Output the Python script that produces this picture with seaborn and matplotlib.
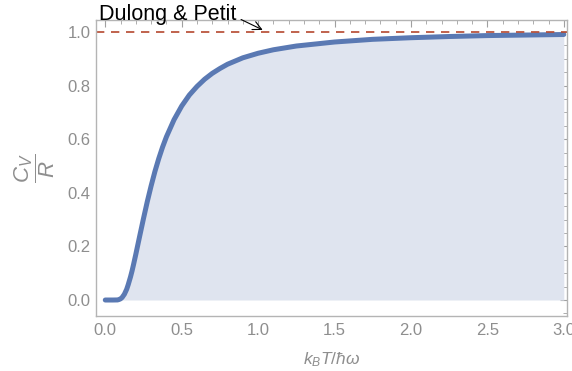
import numpy as np
import pandas as pd
import matplotlib
matplotlib.use("Agg")
import matplotlib.pyplot as plt
import seaborn as sns
from matplotlib.ticker import MultipleLocator, FormatStrFormatter

# values (k_B T / hbar omega  ->  C_V / R)
temp = [0.0, 0.05, 0.08, 0.09, 0.1, 0.11, 0.125, 0.14, 0.15, 0.165, 0.175,
        0.185, 0.2, 0.225, 0.25, 0.275, 0.3, 0.325, 0.35, 0.375, 0.4, 0.45,
        0.5, 0.55, 0.6, 0.65, 0.7, 0.75, 0.8, 0.9, 1.0, 1.1, 1.25, 1.5, 1.75,
        2.0, 2.25, 2.5, 2.75, 3.0]
cv = [0.0, 0.0, 0.0003, 0.0019, 0.0045, 0.0093, 0.0215, 0.040, 0.057, 0.086,
      0.108, 0.1325, 0.171, 0.238, 0.304, 0.3675, 0.426, 0.480, 0.528, 0.571,
      0.609, 0.673, 0.724, 0.765, 0.797, 0.824, 0.846, 0.864, 0.880, 0.904,
      0.921, 0.934, 0.948, 0.963, 0.973, 0.979, 0.9835, 0.987, 0.989, 0.991]
dulong_petit = 1.0

df = pd.DataFrame({"T": temp, "Cv": cv})

sns.set_style("white")
plt.rcParams["font.family"] = ["Liberation Sans", "DejaVu Sans"]
plt.rcParams["mathtext.fontset"] = "custom"
plt.rcParams["mathtext.rm"] = "Liberation Sans"
plt.rcParams["mathtext.it"] = "Liberation Sans:italic"

fig = plt.figure(figsize=(5.72, 3.71), dpi=100)
ax = fig.add_axes([0.168, 0.148, 0.823, 0.798])

ax.fill_between(df["T"], 0, df["Cv"], color="#dfe4ef", lw=0)
sns.lineplot(data=df, x="T", y="Cv", ax=ax, color="#5a79b3", lw=3.6)
ax.axhline(dulong_petit, color="#b5482f", lw=1.2, ls=(0, (5, 4)))

ax.set_xlim(-0.06, 3.02)
ax.set_ylim(-0.06, 1.045)
ax.xaxis.set_major_locator(MultipleLocator(0.5))
ax.xaxis.set_minor_locator(MultipleLocator(0.1))
ax.yaxis.set_major_locator(MultipleLocator(0.2))
ax.yaxis.set_minor_locator(MultipleLocator(0.05))
ax.xaxis.set_major_formatter(FormatStrFormatter("%.1f"))
ax.yaxis.set_major_formatter(FormatStrFormatter("%.1f"))

grey = "#8e8e8e"
for s in ax.spines.values():
    s.set_color("#b4b4b4")
    s.set_linewidth(1.0)
ax.tick_params(which="both", direction="in", color="#a0a0a0",
               top=True, right=True, labelcolor=grey, labelsize=12)
ax.tick_params(which="major", length=5, width=0.8)
ax.tick_params(which="minor", length=3, width=0.6)
ax.tick_params(axis="x", pad=5)
ax.tick_params(axis="y", pad=4)

ax.set_xlabel(r"$k_BT/\hbar\omega$", color=grey, fontsize=12.5, labelpad=9)
ax.set_ylabel(r"$\dfrac{C_V}{R}$", color=grey, fontsize=16, rotation=90,
              va="center", ha="center")
ax.yaxis.set_label_coords(-0.13, 0.5)

ax.annotate("Dulong & Petit", xy=(1.03, 1.008), xytext=(-0.04, 1.067),
            fontsize=15.5, color="black", ha="left", va="center",
            annotation_clip=False,
            arrowprops=dict(arrowstyle="->", color="black", lw=0.8,
                            relpos=(1.0, 0.35), shrinkA=1, shrinkB=0))

fig.savefig("out.png", dpi=100)
